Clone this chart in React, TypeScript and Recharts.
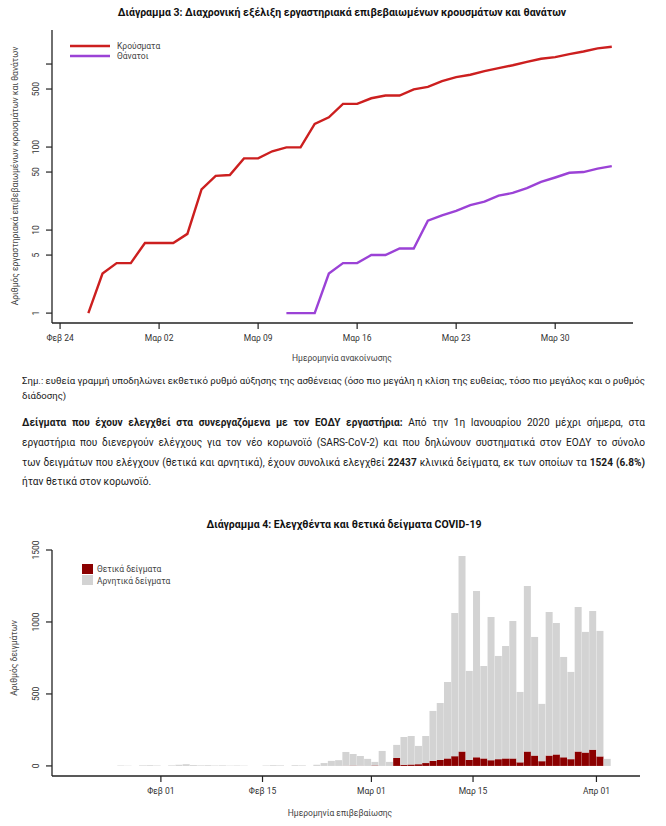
import React from 'react';
import { LineChart, Line, BarChart, Bar, XAxis, YAxis } from 'recharts';

const FONT = 'Roboto, "Noto Sans", sans-serif';
const RED = '#cc1f1f';
const PURPLE = '#9b42d6';
const POS = '#8b0000';
const NEG = '#d3d3d3';
const AXIS = '#222';

// Διάγραμμα 3: αθροιστικά κρούσματα / θάνατοι ανά ημερομηνία ανακοίνωσης (2020)
const caseDates = [
  '02-26', '02-27', '02-28', '02-29',
  '03-01', '03-02', '03-03', '03-04', '03-05', '03-06', '03-07', '03-08', '03-09', '03-10',
  '03-11', '03-12', '03-13', '03-14', '03-15', '03-16', '03-17', '03-18', '03-19', '03-20',
  '03-21', '03-22', '03-23', '03-24', '03-25', '03-26', '03-27', '03-28', '03-29', '03-30',
  '03-31', '04-01', '04-02', '04-03',
];
const cases = [
  1, 3, 4, 4,
  7, 7, 7, 9, 31, 45, 46, 73, 73, 89,
  99, 99, 190, 228, 331, 331, 387, 418, 418, 495,
  530, 624, 695, 743, 821, 892, 966, 1061, 1156, 1212,
  1314, 1415, 1544, 1613,
];
const deathDates = [
  '03-11', '03-12', '03-13', '03-14', '03-15', '03-16', '03-17', '03-18', '03-19', '03-20',
  '03-21', '03-22', '03-23', '03-24', '03-25', '03-26', '03-27', '03-28', '03-29', '03-30',
  '03-31', '04-01', '04-02', '04-03',
];
const deaths = [
  1, 1, 1, 3, 4, 4, 5, 5, 6, 6,
  13, 15, 17, 20, 22, 26, 28, 32, 38, 43,
  49, 50, 55, 59,
];
const chart3Ticks = ['02-24', '03-02', '03-09', '03-16', '03-23', '03-30'];
const chart3TickLabels = ['Φεβ 24', 'Μαρ 02', 'Μαρ 09', 'Μαρ 16', 'Μαρ 23', 'Μαρ 30'];
const chart3YTicks = [1, 5, 10, 50, 100, 500, 1000];
const chart3YLabels = ['1', '5', '10', '50', '100', '500', ''];

// Διάγραμμα 4: δείγματα ανά ημερομηνία επιβεβαίωσης (2020)
const testDates = [
  '01-26', '01-27', '01-28', '01-29', '01-30', '01-31',
  '02-01', '02-02', '02-03', '02-04', '02-05', '02-06', '02-07', '02-08', '02-09', '02-10',
  '02-11', '02-12', '02-13', '02-14', '02-15', '02-16', '02-17', '02-18', '02-19', '02-20',
  '02-21', '02-22', '02-23', '02-24', '02-25', '02-26', '02-27', '02-28', '02-29',
  '03-01', '03-02', '03-03', '03-04', '03-05', '03-06', '03-07', '03-08', '03-09', '03-10',
  '03-11', '03-12', '03-13', '03-14', '03-15', '03-16', '03-17', '03-18', '03-19', '03-20',
  '03-21', '03-22', '03-23', '03-24', '03-25', '03-26', '03-27', '03-28', '03-29', '03-30', '03-31',
  '04-01', '04-02',
];
const positives = [
  0, 0, 0, 0, 0, 0,
  0, 0, 0, 0, 0, 0, 0, 0, 0, 0,
  0, 0, 0, 0, 0, 0, 0, 0, 0, 0,
  0, 0, 0, 0, 0, 1, 2, 1, 0,
  3, 0, 0, 55, 8, 10, 12, 20, 35, 42,
  52, 68, 100, 42, 60, 52, 40, 47, 52, 52,
  25, 100, 72, 33, 72, 80, 60, 47, 100, 93, 113,
  66, 0,
];
const negatives = [
  3, 2, 0, 4, 5, 3,
  0, 4, 8, 12, 6, 4, 5, 3, 4, 2,
  3, 2, 0, 0, 3, 5, 4, 0, 5, 4,
  0, 8, 20, 35, 40, 96, 81, 68, 49,
  25, 104, 28, 91, 193, 198, 127, 188, 347, 395,
  531, 994, 1358, 618, 1155, 642, 995, 717, 781, 955,
  489, 1150, 824, 398, 997, 913, 697, 606, 1004, 838, 963,
  872, 49,
];
const chart4Ticks = ['02-01', '02-15', '03-01', '03-15', '04-01'];
const chart4TickLabels = ['Φεβ 01', 'Φεβ 15', 'Μαρ 01', 'Μαρ 15', 'Απρ 01'];
const chart4YTicks = [0, 500, 1000, 1500];

const DAY = 86400000;
const toUTC = (md: string) => {
  const [m, d] = md.split('-').map(Number);
  return Date.UTC(2020, m - 1, d);
};
const fromUTC = (t: number) => {
  const d = new Date(t);
  return `${String(d.getUTCMonth() + 1).padStart(2, '0')}-${String(d.getUTCDate()).padStart(2, '0')}`;
};
const dayIndex = (md: string) => Math.round((toUTC(md) - toUTC('02-24')) / DAY);

const lineData = caseDates.map((md, i) => {
  const j = deathDates.indexOf(md);
  return { day: dayIndex(md), cases: cases[i], deaths: j >= 0 ? deaths[j] : null };
});

// days shown on the axis of diagram 4 (empty ones at both ends)
const AXIS4_START = '01-17';
const AXIS4_END = '04-06';
const barData: { key: string; pos: number | null; neg: number | null }[] = [];
for (let t = toUTC(AXIS4_START); t <= toUTC(AXIS4_END); t += DAY) {
  const md = fromUTC(t);
  const i = testDates.indexOf(md);
  barData.push({ key: md, pos: i >= 0 ? positives[i] : null, neg: i >= 0 ? negatives[i] : null });
}

// layout of diagram 4
const C4_W = 666;
const C4_H = 316;
const C4_M = { top: 40, right: 26, bottom: 20, left: 0 };
const C4_YW = 52;
const C4_XH = 30;
const C4_PLOT_W = C4_W - C4_M.left - C4_M.right - C4_YW;
const C4_BOTTOM = C4_H - C4_M.bottom - C4_XH;
const BAND = C4_PLOT_W / barData.length;

const tickText = { fontSize: 8.5, fill: '#333', fontFamily: FONT };

const YTick = (labels: (v: number) => string) => (props: any) => {
  const { y, payload } = props;
  const cx = 36;
  return (
    <text x={cx} y={y} transform={`rotate(-90 ${cx} ${y})`} textAnchor="middle" dominantBaseline="central" {...tickText}>
      {labels(payload.value)}
    </text>
  );
};

const XTick3 = (props: any) => {
  const { x, y, payload } = props;
  const idx = chart3Ticks.map(dayIndex).indexOf(payload.value);
  return (
    <text x={x} y={y + 10} textAnchor="middle" {...tickText}>
      {idx >= 0 ? chart3TickLabels[idx] : ''}
    </text>
  );
};

// bars cover a whole day, so ticks sit on the left edge of each band
const XTick4 = (props: any) => {
  const { x, payload } = props;
  const idx = chart4Ticks.indexOf(payload.value);
  const lx = x - BAND / 2;
  return (
    <g>
      <line x1={lx} x2={lx} y1={C4_BOTTOM} y2={C4_BOTTOM + 6} stroke={AXIS} strokeWidth={1.2} />
      <text x={lx} y={C4_BOTTOM + 18} textAnchor="middle" {...tickText}>
        {idx >= 0 ? chart4TickLabels[idx] : ''}
      </text>
    </g>
  );
};

const lineStyle = (top: number, size: number): React.CSSProperties => ({
  position: 'absolute',
  left: 22,
  width: 623,
  top,
  fontSize: size,
  lineHeight: '14px',
  textAlign: 'justify',
  textAlignLast: 'justify',
  color: '#1a1a1a',
  fontFamily: FONT,
});

export default function App() {
  return (
    <div style={{ position: 'absolute', left: 0, top: 0, width: 666, height: 826, background: '#fff', fontFamily: FONT }}>
      <div style={{ position: 'absolute', left: 0, top: 0 }}>
        <LineChart width={666} height={370} data={lineData} margin={{ top: 30, right: 33, bottom: 10, left: 0 }}>
          <XAxis
            type="number"
            dataKey="day"
            domain={[-0.57, 40.5]}
            allowDataOverflow
            ticks={chart3Ticks.map(dayIndex)}
            interval={0}
            height={37}
            tick={XTick3}
            tickSize={6}
            axisLine={{ stroke: AXIS, strokeWidth: 1.3 }}
            tickLine={{ stroke: AXIS, strokeWidth: 1.2 }}
          />
          <YAxis
            scale="log"
            domain={[0.76, 2570]}
            allowDataOverflow
            ticks={chart3YTicks}
            interval={0}
            width={52}
            tick={YTick((v) => chart3YLabels[chart3YTicks.indexOf(v)] ?? '')}
            tickSize={6}
            axisLine={{ stroke: AXIS, strokeWidth: 1.3 }}
            tickLine={{ stroke: AXIS, strokeWidth: 1.2 }}
          />
          <Line type="linear" dataKey="cases" stroke={RED} strokeWidth={2.4} dot={false} isAnimationActive={false} />
          <Line type="linear" dataKey="deaths" stroke={PURPLE} strokeWidth={2.4} dot={false} isAnimationActive={false} />
        </LineChart>
      </div>

      <div style={{ position: 'absolute', left: 0, top: 510 }}>
        <BarChart width={C4_W} height={C4_H} data={barData} margin={C4_M} barCategoryGap={0} barGap={0}>
          <XAxis
            dataKey="key"
            type="category"
            ticks={chart4Ticks}
            interval={0}
            height={C4_XH}
            tick={XTick4}
            tickLine={false}
            axisLine={{ stroke: AXIS, strokeWidth: 1.3 }}
          />
          <YAxis
            type="number"
            domain={[-70, 1500]}
            allowDataOverflow
            ticks={chart4YTicks}
            interval={0}
            width={C4_YW}
            tick={YTick((v) => String(v))}
            tickSize={6}
            axisLine={{ stroke: AXIS, strokeWidth: 1.3 }}
            tickLine={{ stroke: AXIS, strokeWidth: 1.2 }}
          />
          <Bar dataKey="pos" stackId="s" fill={POS} isAnimationActive={false} />
          <Bar dataKey="neg" stackId="s" fill={NEG} isAnimationActive={false} />
        </BarChart>
      </div>

      <svg width={666} height={826} style={{ position: 'absolute', left: 0, top: 0, pointerEvents: 'none' }}>
        <text x={342} y={16} textAnchor="middle" fontSize={10.5} fontWeight="bold" fill="#111" fontFamily={FONT}>
          Διάγραμμα 3: Διαχρονική εξέλιξη εργαστηριακά επιβεβαιωμένων κρουσμάτων και θανάτων
        </text>
        <line x1={70} x2={110} y1={46} y2={46} stroke={RED} strokeWidth={2.5} />
        <line x1={70} x2={110} y1={56} y2={56} stroke={PURPLE} strokeWidth={2.5} />
        <text x={117} y={46} dominantBaseline="central" fontSize={8.5} fill="#444" fontFamily={FONT}>Κρούσματα</text>
        <text x={117} y={56} dominantBaseline="central" fontSize={8.5} fill="#444" fontFamily={FONT}>Θάνατοι</text>
        <text x={15} y={176} transform="rotate(-90 15 176)" textAnchor="middle" dominantBaseline="central" fontSize={8.5} fill="#444" fontFamily={FONT}>
          Αριθμός εργαστηριακά επιβεβαιωμένων κρουσμάτων και θανάτων
        </text>
        <text x={342} y={361} textAnchor="middle" fontSize={8.5} fill="#444" fontFamily={FONT}>Ημερομηνία ανακοίνωσης</text>

        <text x={344} y={528} textAnchor="middle" fontSize={10.5} fontWeight="bold" fill="#111" fontFamily={FONT}>
          Διάγραμμα 4: Ελεγχθέντα και θετικά δείγματα COVID-19
        </text>
        <rect x={82} y={564} width={11} height={10} fill={POS} />
        <rect x={82} y={575} width={11} height={10} fill={NEG} />
        <text x={97} y={569} dominantBaseline="central" fontSize={8.5} fill="#444" fontFamily={FONT}>Θετικά δείγματα</text>
        <text x={97} y={581} dominantBaseline="central" fontSize={8.5} fill="#444" fontFamily={FONT}>Αρνητικά δείγματα</text>
        <text x={14} y={658} transform="rotate(-90 14 658)" textAnchor="middle" dominantBaseline="central" fontSize={8.5} fill="#444" fontFamily={FONT}>
          Αριθμός δειγμάτων
        </text>
        <text x={340} y={816} textAnchor="middle" fontSize={8.5} fill="#444" fontFamily={FONT}>Ημερομηνία επιβεβαίωσης</text>
      </svg>

      <div style={lineStyle(374, 9.6)}>
        Σημ.: ευθεία γραμμή υποδηλώνει εκθετικό ρυθμό αύξησης της ασθένειας (όσο πιο μεγάλη η κλίση της ευθείας, τόσο πιο μεγάλος και ο ρυθμός
      </div>
      <div style={{ ...lineStyle(389, 9.6), textAlignLast: 'left' }}>διάδοσης)</div>
      <div style={lineStyle(416, 10.1)}>
        <b>Δείγματα που έχουν ελεγχθεί στα συνεργαζόμενα με τον ΕΟΔΥ εργαστήρια:</b> Από την 1η Ιανουαρίου 2020 μέχρι σήμερα, στα
      </div>
      <div style={lineStyle(436, 10.1)}>
        εργαστήρια που διενεργούν ελέγχους για τον νέο κορωνοϊό (SARS-CoV-2) και που δηλώνουν συστηματικά στον ΕΟΔΥ το σύνολο
      </div>
      <div style={lineStyle(456, 10.1)}>
        των δειγμάτων που ελέγχουν (θετικά και αρνητικά), έχουν συνολικά ελεγχθεί <b>22437</b> κλινικά δείγματα, εκ των οποίων τα <b>1524 (6.8%)</b>
      </div>
      <div style={{ ...lineStyle(475, 10.1), textAlignLast: 'left' }}>ήταν θετικά στον κορωνοϊό.</div>
    </div>
  );
}
